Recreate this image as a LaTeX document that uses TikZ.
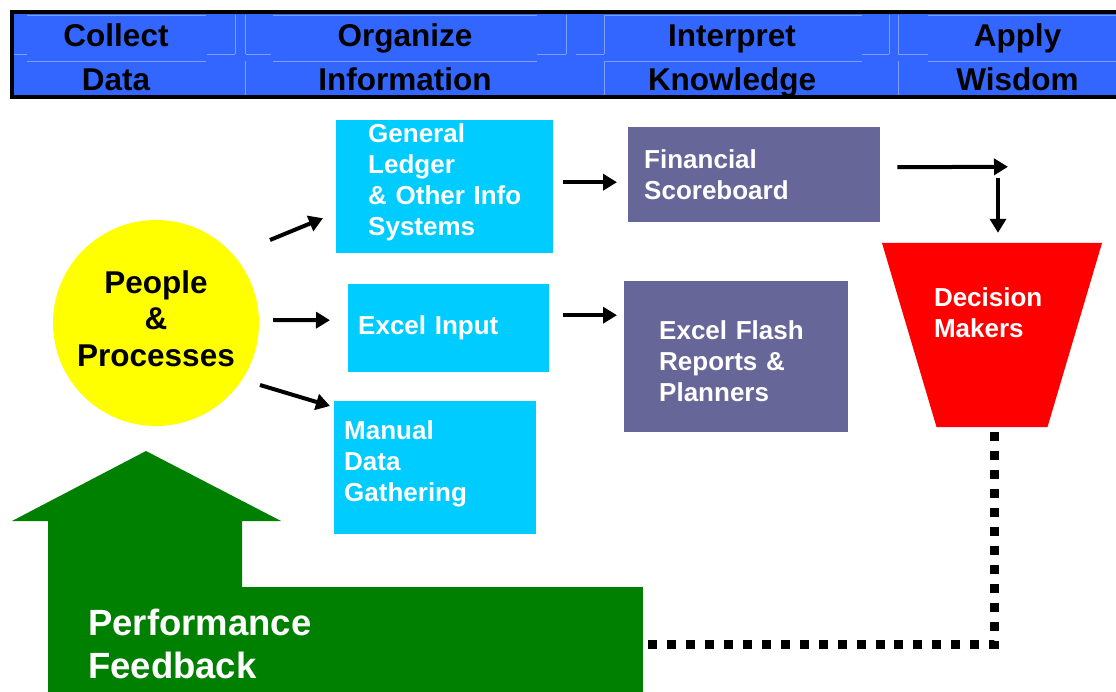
\documentclass[tikz,border=0pt]{standalone}
\usepackage{fontspec}
\setmainfont{Liberation Sans}
\usetikzlibrary{arrows.meta}
\definecolor{hdrblue}{RGB}{51,102,255}
\definecolor{hdrline}{RGB}{125,160,255}
\definecolor{boxcyan}{RGB}{0,204,255}
\definecolor{boxpurple}{RGB}{102,102,153}
\definecolor{dmred}{RGB}{255,0,0}
\definecolor{ppyellow}{RGB}{255,255,0}
\definecolor{fbgreen}{RGB}{0,128,0}
\begin{document}
\begin{tikzpicture}[x=1pt,y=-1pt,font=\bfseries,line join=miter,
	head/.style={anchor=base,font=\fontsize{31.5}{36}\bfseries},
	faint/.style={hdrline,line width=0.7pt},
	cell/.style={anchor=north west,fill=boxcyan,text=white,align=left,inner ysep=0pt,font=\fontsize{26}{31}\bfseries},
	pcell/.style={cell,fill=boxpurple},
	arr/.style={line width=4pt,-{Triangle[width=16pt,length=14pt]}},
	fbline/.style={line width=9pt,dash pattern=on 9pt off 9.97pt}]
	\clip (0,0) rectangle (1116,692);
	% stage bar
	\draw[line width=4pt,fill=hdrblue] (12,12) rectangle (1130,97);
	\foreach \l/\r in {27/206,273/537,604/862,928/1116}
		\draw[faint] (\l,15.5)--(\r,15.5) (\l,61)--(\r,61);
	\foreach \l/\r in {14/27,207/235,246/271,537/566,576/604,862/889,898/928}
		\draw[faint] (\l,54)--(\r,54);
	\foreach \x in {245,604,898}
		\draw[faint] (\x,15.5)--(\x,54) (\x,61)--(\x,95);
	\foreach \x in {235,566,889}
		\draw[faint] (\x,15.5)--(\x,54);
	\foreach \x/\a/\b [count=\i] in {116/Collect/Data,405/Organize/Information,732/Interpret/Knowledge,1017.5/Apply/Wisdom}{
		\node[head] (top\i) at (\x,46.5) {\a};
		\node[head] (bot\i) at (\x,91) {\b};}
	% feedback arrow
	\fill[fbgreen] (48,692)--(48,521)--(12,521)--(146,451)--(281,521)--(242,521)--(242,590)--(48,590)--cycle;
	\node[anchor=north west,fill=fbgreen,text=white,align=left,minimum height=105pt,inner ysep=0pt,inner xsep=40pt,text width=515pt,text height=34.6pt,font=\fontsize{36.5}{43}\bfseries] (fb) at (48,587) {Performance\\Feedback};
	% sources
	\node[circle,fill=ppyellow,minimum size=206pt,inner sep=0pt,text depth=9pt,align=center,font=\fontsize{31.5}{36.5}\bfseries] (pp) at (156,323) {People\\\&\\Processes};
	\node[cell,minimum height=133pt,inner xsep=32pt,text width=153pt,text depth=106.5pt] (gl) at (336,120) {General\\Ledger\\\mbox{\& Other Info}\\Systems};
	\node[cell,minimum height=88pt,inner xsep=10pt,text width=181pt] (excel) at (348,284) {Excel Input};
	\node[cell,minimum height=133pt,inner xsep=10pt,text width=182pt,text depth=75.5pt] (manual) at (334,401) {Manual\\Data\\Gathering};
	\node[pcell,minimum height=95pt,inner xsep=16pt,text width=220pt] (fin) at (628,127) {Financial\\Scoreboard};
	\node[pcell,minimum height=151pt,inner xsep=35pt,text width=154pt,text height=27pt] (flash) at (624,281) {Excel Flash\\Reports \&\\Planners};
	\node[minimum width=220pt,minimum height=184pt,inner xsep=52pt,inner ysep=0pt,text width=116pt,text depth=76pt,align=left,text=white,font=\fontsize{26}{31}\bfseries,
		path picture={\fill[dmred] (path picture bounding box.north west)--(path picture bounding box.north east)--([xshift=-54.5pt]path picture bounding box.south east)--([xshift=54.5pt]path picture bounding box.south west)--cycle;}] (dm) at (992,335) {Decision\\Makers};
	\coordinate (turn) at ([shift={(16,-76)}]dm.north);
	% flows
	\draw[arr] ([shift={(114,-83)}]pp.center)--([shift={(-13,31.5)}]gl.west);
	\draw[arr] ([shift={(14,-3)}]pp.east)--([shift={(-18,-8)}]excel.west);
	\draw[arr] ([shift={(104,62)}]pp.center)--([shift={(-4,5)}]manual.north west);
	\draw[arr] ([shift={(10,-4.5)}]gl.east)--([shift={(-11,7.5)}]fin.west);
	\draw[arr] ([shift={(14,-13)}]excel.east)--([shift={(-7,-41.5)}]flash.west);
	\draw[arr] ([shift={(17,-7.5)}]fin.east)--(turn);
	\draw[arr] ([shift={(-10,11)}]turn)--([shift={(6,-10)}]dm.north);
	\draw[fbline] ([shift={(2.5,5)}]dm.south) |- ([shift={(5,5)}]fb.east);
\end{tikzpicture}
\end{document}
